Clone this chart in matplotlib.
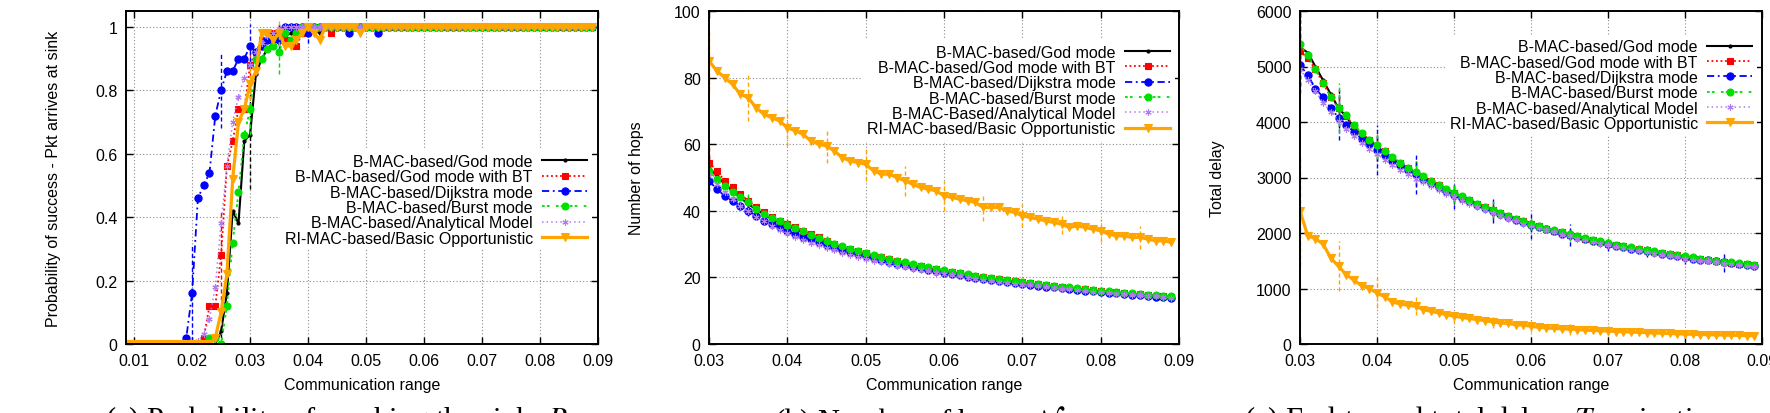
import matplotlib
matplotlib.use("Agg")
import matplotlib.pyplot as plt
import numpy as np

plt.rcParams["font.family"] = ["Liberation Sans", "DejaVu Sans"]
plt.rcParams["mathtext.fontset"] = "stix"

# ---------------------------------------------------------------
#  Dati
# ---------------------------------------------------------------
LABELS = [
    "B-MAC-based/God mode",
    "B-MAC-based/God mode with BT",
    "B-MAC-based/Dijkstra mode",
    "B-MAC-based/Burst mode",
    "B-MAC-based/Analytical Model",
    "RI-MAC-based/Basic Opportunistic",
]
LABELS_HOPS = LABELS[:4] + ["B-MAC-Based/Analytical Model", LABELS[5]]

# (a) probabilita' di successo
X_PROB = [
    0.009, 0.010, 0.011, 0.012, 0.013, 0.014, 0.015, 0.016, 0.017, 0.018,
    0.019, 0.020, 0.021, 0.022, 0.023, 0.024, 0.025, 0.026, 0.027, 0.028,
    0.029, 0.030, 0.031, 0.032, 0.033, 0.034, 0.035, 0.036, 0.037, 0.038,
    0.039, 0.040, 0.041, 0.042, 0.043, 0.044, 0.045, 0.046, 0.047, 0.048,
    0.049, 0.050, 0.051, 0.052, 0.053, 0.054, 0.055, 0.056, 0.057, 0.058,
    0.059, 0.060, 0.061, 0.062, 0.063, 0.064, 0.065, 0.066, 0.067, 0.068,
    0.069, 0.070, 0.071, 0.072, 0.073, 0.074, 0.075, 0.076, 0.077, 0.078,
    0.079, 0.080, 0.081, 0.082, 0.083, 0.084, 0.085, 0.086, 0.087, 0.088,
    0.089,
]
PROB_GOD = [
    0, 0, 0, 0, 0, 0, 0, 0, 0, 0,
    0, 0, 0, 0, 0, 0, 0.04, 0.16, 0.42, 0.38,
    0.64, 0.66, 0.85, 0.90, 0.93, 0.95, 0.96, 0.97, 0.98, 0.99,
    1, 1, 0.99, 0.98, 1, 1, 1, 1, 1, 1,
    1, 1, 1, 1, 1, 1, 1, 1, 1, 1,
    1, 1, 1, 1, 1, 1, 1, 1, 1, 1,
    1, 1, 1, 1, 1, 1, 1, 1, 1, 1,
    1, 1, 1, 1, 1, 1, 1, 1, 1, 1,
    1,
]
PROB_BT = [
    0, 0, 0, 0, 0, 0, 0, 0, 0, 0,
    0, 0, 0, 0.02, 0.12, 0.12, 0.28, 0.56, 0.64, 0.74,
    0.74, 0.88, 0.92, 0.96, 0.96, 0.98, 0.98, 0.96, 0.96, 0.94,
    0.98, 1, 1, 1, 1, 0.98, 1, 1, 1, 1,
    1, 1, 1, 1, 1, 1, 1, 1, 1, 1,
    1, 1, 1, 1, 1, 1, 1, 1, 1, 1,
    1, 1, 1, 1, 1, 1, 1, 1, 1, 1,
    1, 1, 1, 1, 1, 1, 1, 1, 1, 1,
    1,
]
PROB_DIJ = [
    0, 0, 0, 0, 0, 0, 0, 0, 0, 0,
    0.02, 0.16, 0.46, 0.50, 0.54, 0.72, 0.80, 0.86, 0.86, 0.90,
    0.90, 0.94, 0.92, 0.94, 0.96, 0.97, 0.96, 1, 1, 1,
    1, 0.98, 1, 1, 1, 1, 1, 1, 0.98, 1,
    1, 1, 1, 0.98, 1, 1, 1, 1, 1, 1,
    1, 1, 1, 1, 1, 1, 1, 1, 1, 1,
    1, 1, 1, 1, 1, 1, 1, 1, 1, 1,
    1, 1, 1, 1, 1, 1, 1, 1, 1, 1,
    1,
]
PROB_BURST = [
    0, 0, 0, 0, 0, 0, 0, 0, 0, 0,
    0, 0, 0, 0, 0.02, 0.02, 0, 0.12, 0.32, 0.48,
    0.66, 0.74, 0.90, 0.90, 0.93, 0.94, 0.92, 0.98, 0.96, 0.98,
    1, 1, 1, 1, 1, 1, 1, 1, 1, 1,
    1, 1, 1, 1, 1, 1, 1, 1, 1, 1,
    1, 1, 1, 1, 1, 1, 1, 1, 1, 1,
    1, 1, 1, 1, 1, 1, 1, 1, 1, 1,
    1, 1, 1, 1, 1, 1, 1, 1, 1, 1,
    1,
]
PROB_ANALYTIC = [
    0, 0, 0, 0, 0, 0, 0, 0, 0, 0,
    0, 0, 0.01, 0.03, 0.08, 0.18, 0.38, 0.56, 0.70, 0.78,
    0.84, 0.88, 0.92, 0.95, 0.97, 0.98, 0.99, 1, 1, 1,
    1, 1, 1, 1, 1, 1, 1, 1, 1, 1,
    1, 1, 1, 1, 1, 1, 1, 1, 1, 1,
    1, 1, 1, 1, 1, 1, 1, 1, 1, 1,
    1, 1, 1, 1, 1, 1, 1, 1, 1, 1,
    1, 1, 1, 1, 1, 1, 1, 1, 1, 1,
    1,
]
PROB_RI = [
    0, 0, 0, 0, 0, 0, 0, 0, 0, 0,
    0, 0, 0, 0, 0, 0.02, 0.10, 0.22, 0.52, 0.70,
    0.74, 0.82, 0.86, 0.98, 0.98, 0.96, 0.98, 0.94, 0.94, 0.96,
    0.98, 1, 0.98, 0.96, 1, 1, 1, 1, 1, 1,
    0.98, 1, 1, 1, 1, 1, 1, 1, 1, 1,
    1, 1, 1, 1, 1, 1, 1, 1, 1, 1,
    1, 1, 1, 1, 1, 1, 1, 1, 1, 1,
    1, 1, 1, 1, 1, 1, 1, 1, 1, 1,
    1,
]
ERR_X_PROB = [0.020, 0.025, 0.030, 0.035, 0.040]
ERR_PROB = [
    [0, 0.02, 0.17, 0.04, 0.01],
    [0, 0.14, 0.06, 0.03, 0.01],
    [0.15, 0.12, 0.07, 0.05, 0.03],
    [0, 0.02, 0.08, 0.07, 0.01],
    [0, 0, 0, 0, 0],
    [0, 0.04, 0.05, 0.04, 0.01],
]

# (b) numero di hop e (c) ritardo totale
X_RANGE = [
    0.030, 0.031, 0.032, 0.033, 0.034, 0.035, 0.036, 0.037, 0.038, 0.039,
    0.040, 0.041, 0.042, 0.043, 0.044, 0.045, 0.046, 0.047, 0.048, 0.049,
    0.050, 0.051, 0.052, 0.053, 0.054, 0.055, 0.056, 0.057, 0.058, 0.059,
    0.060, 0.061, 0.062, 0.063, 0.064, 0.065, 0.066, 0.067, 0.068, 0.069,
    0.070, 0.071, 0.072, 0.073, 0.074, 0.075, 0.076, 0.077, 0.078, 0.079,
    0.080, 0.081, 0.082, 0.083, 0.084, 0.085, 0.086, 0.087, 0.088, 0.089,
]
HOPS_GOD = [
    53, 50.5, 48, 46, 44, 42, 40.5, 39, 37.5, 36.5,
    35.5, 34.5, 33.5, 32.5, 31.5, 30.5, 29.8, 29, 28.3, 27.6,
    27, 26.4, 25.8, 25.2, 24.7, 24.2, 23.7, 23.2, 22.8, 22.3,
    21.9, 21.5, 21.1, 20.7, 20.3, 20, 19.6, 19.3, 19, 18.7,
    18.4, 18.1, 17.8, 17.5, 17.3, 17, 16.8, 16.5, 16.3, 16,
    15.8, 15.6, 15.4, 15.2, 15, 14.8, 14.6, 14.4, 14.3, 14.1,
]
HOPS_BT = [
    54.5, 52, 49, 47, 45, 43, 41, 39.5, 38, 37,
    36, 35, 34, 33, 32, 31, 30, 29.2, 28.5, 27.8,
    27.2, 26.5, 26, 25.4, 24.8, 24.3, 23.8, 23.3, 22.9, 22.4,
    22, 21.6, 21.2, 20.8, 20.4, 20.1, 19.7, 19.4, 19.1, 18.8,
    18.5, 18.2, 17.9, 17.6, 17.4, 17.1, 16.9, 16.6, 16.4, 16.1,
    15.9, 15.7, 15.5, 15.3, 15.1, 14.9, 14.7, 14.5, 14.4, 14.2,
]
HOPS_DIJ = [
    49, 46.5, 44.5, 43, 41.5, 40, 38.5, 37, 36, 35,
    34, 33, 32.2, 31.4, 30.6, 29.8, 29, 28.3, 27.6, 27,
    26.3, 25.8, 25.2, 24.6, 24.1, 23.6, 23.1, 22.7, 22.2, 21.8,
    21.4, 21, 20.6, 20.2, 19.9, 19.6, 19.2, 18.9, 18.6, 18.3,
    18, 17.7, 17.5, 17.2, 17, 16.7, 16.5, 16.2, 16, 15.8,
    15.6, 15.4, 15.2, 15, 14.8, 14.6, 14.4, 14.2, 14.1, 13.9,
]
HOPS_BURST = [
    52, 49.5, 47.5, 45.5, 44, 42.5, 40.5, 39, 37.8, 36.8,
    35.8, 34.8, 33.8, 32.8, 31.8, 31, 30, 29.3, 28.6, 27.9,
    27.3, 26.7, 26.1, 25.5, 25, 24.5, 24, 23.5, 23, 22.6,
    22.2, 21.7, 21.3, 20.9, 20.5, 20.2, 19.8, 19.5, 19.2, 18.9,
    18.6, 18.3, 18, 17.7, 17.5, 17.2, 17, 16.7, 16.5, 16.2,
    16, 15.8, 15.6, 15.4, 15.2, 15, 14.8, 14.6, 14.5, 14.3,
]
HOPS_ANALYTIC = [
    51, 48, 45.5, 43.5, 41.5, 39.8, 38.2, 36.8, 35.5, 34.3,
    33.2, 32.2, 31.3, 30.4, 29.6, 28.8, 28.1, 27.4, 26.8, 26.2,
    25.6, 25, 24.5, 24, 23.5, 23, 22.6, 22.2, 21.8, 21.4,
    21, 20.6, 20.3, 19.9, 19.6, 19.3, 19, 18.7, 18.4, 18.1,
    17.8, 17.6, 17.3, 17.1, 16.8, 16.6, 16.4, 16.2, 15.9, 15.7,
    15.5, 15.3, 15.1, 15, 14.8, 14.6, 14.4, 14.3, 14.1, 13.9,
]
HOPS_RI = [
    85, 82, 80, 78, 75, 74, 71, 69, 68, 67,
    65, 64, 63, 61, 60, 59.5, 58, 56, 55, 54.5,
    54, 52, 51, 51, 50, 49, 48, 47, 46.5, 46,
    44.5, 44, 43.5, 43, 42.5, 41, 41, 41, 40, 39.5,
    38.5, 38, 37.5, 37, 36.5, 36, 35, 35.5, 35, 34.5,
    34, 33, 32.5, 32.5, 32, 32, 31.5, 31, 31, 30.5,
]

DELAY_GOD = [
    5350, 5250, 5000, 4750, 4500, 4250, 4100, 3900, 3750, 3700,
    3550, 3450, 3350, 3250, 3150, 3080, 3000, 2920, 2850, 2780,
    2700, 2640, 2580, 2520, 2460, 2400, 2350, 2300, 2250, 2200,
    2160, 2120, 2080, 2040, 2000, 1970, 1930, 1900, 1870, 1840,
    1810, 1780, 1750, 1730, 1700, 1680, 1660, 1640, 1610, 1590,
    1570, 1550, 1530, 1510, 1495, 1480, 1465, 1450, 1435, 1420,
]
DELAY_BT = [
    5280, 5150, 4950, 4700, 4450, 4250, 4100, 3920, 3780, 3680,
    3570, 3470, 3360, 3260, 3170, 3090, 3010, 2940, 2860, 2780,
    2720, 2650, 2590, 2530, 2470, 2410, 2360, 2300, 2250, 2210,
    2170, 2120, 2080, 2040, 2010, 1970, 1940, 1900, 1870, 1840,
    1810, 1780, 1760, 1730, 1710, 1690, 1660, 1640, 1620, 1600,
    1570, 1550, 1530, 1510, 1500, 1480, 1465, 1450, 1435, 1420,
]
DELAY_DIJ = [
    5020, 4850, 4600, 4450, 4250, 4080, 3950, 3820, 3700, 3600,
    3500, 3400, 3300, 3220, 3140, 3060, 2980, 2900, 2830, 2760,
    2690, 2630, 2570, 2510, 2450, 2400, 2340, 2290, 2240, 2190,
    2150, 2110, 2070, 2030, 1990, 1960, 1920, 1890, 1860, 1830,
    1800, 1770, 1740, 1720, 1690, 1670, 1650, 1630, 1600, 1580,
    1560, 1540, 1520, 1505, 1490, 1470, 1455, 1440, 1425, 1410,
]
DELAY_BURST = [
    5400, 5200, 4950, 4700, 4450, 4250, 4120, 3950, 3800, 3680,
    3580, 3470, 3370, 3270, 3180, 3100, 3020, 2940, 2860, 2790,
    2720, 2660, 2590, 2530, 2470, 2420, 2360, 2310, 2260, 2210,
    2170, 2120, 2080, 2050, 2010, 1980, 1940, 1910, 1880, 1850,
    1820, 1790, 1760, 1740, 1710, 1690, 1670, 1640, 1620, 1600,
    1580, 1560, 1540, 1520, 1500, 1485, 1470, 1455, 1440, 1425,
]
DELAY_ANALYTIC = [
    4950, 4750, 4550, 4350, 4180, 4020, 3880, 3750, 3630, 3520,
    3420, 3320, 3230, 3140, 3060, 2980, 2910, 2840, 2770, 2700,
    2640, 2580, 2520, 2460, 2410, 2360, 2310, 2260, 2210, 2170,
    2130, 2090, 2050, 2010, 1970, 1940, 1900, 1870, 1840, 1810,
    1780, 1750, 1730, 1700, 1680, 1650, 1630, 1610, 1590, 1560,
    1540, 1520, 1500, 1490, 1470, 1450, 1440, 1420, 1405, 1390,
]
DELAY_RI = [
    2400, 1950, 1900, 1800, 1550, 1400, 1250, 1150, 1050, 1000,
    920, 850, 760, 720, 700, 680, 620, 590, 560, 530,
    500, 480, 460, 440, 420, 400, 380, 370, 350, 340,
    320, 300, 290, 280, 275, 270, 260, 250, 245, 240,
    235, 225, 220, 215, 210, 205, 200, 195, 190, 185,
    180, 175, 170, 168, 165, 162, 158, 155, 152, 150,
]

ERR_X_RANGE = [0.030, 0.035, 0.040, 0.045, 0.050, 0.055,
               0.060, 0.065, 0.070, 0.075, 0.080, 0.085]
ERR_HOPS = [
    [4, 2, 1.5, 1, 1, 0.8, 0.8, 0.6, 0.6, 0.5, 0.5, 0.5],
    [5, 2, 1.5, 1, 1, 0.8, 0.8, 0.6, 0.6, 0.5, 0.5, 0.5],
    [3, 1.5, 1, 1, 0.8, 0.8, 0.6, 0.6, 0.5, 0.5, 0.5, 0.5],
    [3, 3, 2, 1.5, 1, 1, 0.8, 0.8, 0.6, 0.6, 0.5, 0.5],
    [0, 0, 0, 0, 0, 0, 0, 0, 0, 0, 0, 0],
    [9, 7, 5.5, 5, 5, 4.5, 4.5, 4, 3.5, 3, 3.5, 3.5],
]
ERR_DELAY = [
    [700, 350, 250, 230, 180, 150, 120, 100, 80, 70, 60, 60],
    [300, 250, 200, 150, 120, 100, 90, 80, 70, 60, 60, 60],
    [500, 400, 450, 350, 250, 220, 250, 200, 130, 100, 120, 170],
    [500, 450, 250, 200, 180, 150, 120, 120, 100, 80, 70, 70],
    [0, 0, 0, 0, 0, 0, 0, 0, 0, 0, 0, 0],
    [1000, 450, 280, 160, 120, 120, 110, 100, 85, 70, 65, 65],
]

# stile gnuplot: colore, tratteggio, marcatore, dimensione, spessore
STYLES = [
    dict(color="black", ls="-", marker="o", ms=2.2, lw=1.5),
    dict(color="#ff0000", ls=(0, (1, 1.5)), marker="s", ms=4.8, lw=1.3),
    dict(color="#0000ff", ls=(0, (4, 2, 1, 2)), marker="o", ms=5.2, lw=1.3),
    dict(color="#00e000", ls=(0, (1.5, 1.2, 1.5, 3.5)), marker="o", ms=5, lw=1.3),
    dict(color="#b07cf0", ls=(0, (1, 2)), marker=(6, 2, 0), ms=4.5, lw=1.1),
    dict(color="#ffa500", ls="-", marker="v", ms=5.5, lw=2.3),
]

FONT = 11.5


def draw_panel(ax, x, series, err_x, errs, labels, xlim, ylim,
               xticks, xticklabels, yticks, yticklabels, ylabel,
               ylabel_x, legend_anchor):
    x = np.asarray(x)
    for y, err, lab, st in zip(series, errs, labels, STYLES):
        y = np.asarray(y, dtype=float)
        ax.plot(x, y, color=st["color"], linestyle=st["ls"], linewidth=st["lw"],
                marker=st["marker"], markersize=st["ms"],
                markeredgecolor=st["color"], markeredgewidth=0.8, label=lab)
        idx = [int(np.argmin(np.abs(x - xe))) for xe in err_x]
        for i, e in zip(idx, err):
            if e > 0:
                ax.vlines(x[i], y[i] - e, y[i] + e, colors=st["color"],
                          linestyles=(0, (3, 2)), linewidth=1.0)

    ax.set_xlim(*xlim)
    ax.set_ylim(*ylim)
    ax.set_xticks(xticks)
    ax.set_xticklabels(xticklabels)
    ax.set_yticks(yticks)
    ax.set_yticklabels(yticklabels)
    ax.tick_params(direction="in", length=5, width=1.0, top=True, right=True,
                   labelsize=FONT)
    ax.tick_params(axis="x", pad=6.5)
    ax.tick_params(axis="y", pad=6)
    ax.grid(True, color="#8c8c8c", linestyle=(0, (1, 2)), linewidth=0.8)
    for sp in ax.spines.values():
        sp.set_linewidth(1.4)

    ax.set_xlabel("Communication range", fontsize=FONT)
    ax.xaxis.label.set_va("center")
    ax.xaxis.set_label_coords(0.5, -0.123)
    ax.set_ylabel(ylabel, fontsize=FONT)
    ax.yaxis.set_label_coords(ylabel_x, 0.5)

    leg = ax.legend(loc="upper right", bbox_to_anchor=legend_anchor,
                    markerfirst=False, numpoints=1, fontsize=FONT,
                    frameon=True, facecolor="white", edgecolor="none",
                    framealpha=1.0, fancybox=False, borderaxespad=0,
                    borderpad=0.3, labelspacing=0.02, handlelength=2.8,
                    handletextpad=0.6)
    return leg


fig = plt.figure(figsize=(17.7, 4.14), dpi=100)
W, H = 1770.0, 414.0
TOP, BOTTOM = 12.0, 345.0


def add_axes(left, right):
    return fig.add_axes([left / W, 1 - BOTTOM / H, (right - left) / W,
                         (BOTTOM - TOP) / H])


ax1 = add_axes(126, 598)
ax2 = add_axes(709, 1179)
ax3 = add_axes(1300, 1762)

X_TICKS_A = [0.01, 0.02, 0.03, 0.04, 0.05, 0.06, 0.07, 0.08, 0.09]
X_TICKS_BC = [0.03, 0.04, 0.05, 0.06, 0.07, 0.08, 0.09]
Y_TICKS_A = [0, 0.2, 0.4, 0.6, 0.8, 1.0]
Y_TICKS_B = [0, 20, 40, 60, 80, 100]
Y_TICKS_C = [0, 1000, 2000, 3000, 4000, 5000, 6000]

draw_panel(ax1, X_PROB,
           [PROB_GOD, PROB_BT, PROB_DIJ, PROB_BURST, PROB_ANALYTIC, PROB_RI],
           ERR_X_PROB, ERR_PROB, LABELS, (0.0086, 0.09), (0, 1.05),
           X_TICKS_A, [f"{v:.2f}" for v in X_TICKS_A],
           Y_TICKS_A, ["0", "0.2", "0.4", "0.6", "0.8", "1"],
           "Probability of success - Pkt arrives at sink", -0.138,
           (0.987, 0.585))

draw_panel(ax2, X_RANGE,
           [HOPS_GOD, HOPS_BT, HOPS_DIJ, HOPS_BURST, HOPS_ANALYTIC, HOPS_RI],
           ERR_X_RANGE, ERR_HOPS, LABELS_HOPS, (0.03, 0.09), (0, 100),
           X_TICKS_BC, [f"{v:.2f}" for v in X_TICKS_BC],
           Y_TICKS_B, [str(v) for v in Y_TICKS_B],
           "Number of hops", -0.138, (0.991, 0.913))

draw_panel(ax3, X_RANGE,
           [DELAY_GOD, DELAY_BT, DELAY_DIJ, DELAY_BURST, DELAY_ANALYTIC, DELAY_RI],
           ERR_X_RANGE, ERR_DELAY, LABELS, (0.03, 0.09), (0, 6000),
           X_TICKS_BC, [f"{v:.2f}" for v in X_TICKS_BC],
           Y_TICKS_C, [str(v) for v in Y_TICKS_C],
           "Total delay", -0.162, (0.989, 0.929))

# didascalie (tagliate dal bordo inferiore come nell'originale)
CAPTIONS = [
    (105, r"(a) Probability of reaching the sink: $P_s$"),
    (774, r"(b) Number of hops: $\mathcal{N}$"),
    (1244, r"(c) End-to-end total delay: $T$ermination-wait"),
]
for x_px, txt in CAPTIONS:
    fig.text(x_px / W, 1 - 404 / H, txt, ha="left", va="top",
             fontsize=22, family="Liberation Serif")

fig.savefig("out.png", dpi=100)
